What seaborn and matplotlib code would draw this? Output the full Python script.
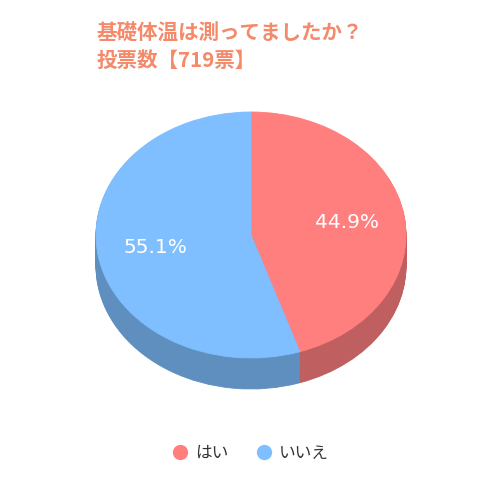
import seaborn as sns
import matplotlib.pyplot as plt
from matplotlib.lines import Line2D
from matplotlib.colors import to_rgb

# data
labels = ["はい", "いいえ"]
shares = [44.9, 55.1]
top_colors = ["#FF7F7F", "#7FBFFF"]
title_lines = ["基礎体温は測ってましたか？", "投票数【719票】"]

sns.set_theme(style="white")
plt.rcParams['font.family'] = ['Noto Sans CJK JP', 'DejaVu Sans']

side_colors = [tuple(c * 0.75 for c in to_rgb(col)) for col in top_colors]

fig = plt.figure(figsize=(5, 5), dpi=100)
ax = fig.add_axes([0, 0, 1, 1])

# fake 3d: stack darker pies downwards, then the top face
depth = 31 / 123
n_layers = 32
for i in range(n_layers, 0, -1):
    off = depth * i / n_layers
    ax.pie(shares, colors=side_colors, startangle=90, counterclock=False,
           center=(0, -off),
           wedgeprops=dict(linewidth=0.6, edgecolor=None))
    for w, c in zip(ax.patches[-2:], side_colors):
        w.set_edgecolor(c)

wedges, texts, autotexts = ax.pie(
    shares, colors=top_colors, startangle=90, counterclock=False,
    autopct='%1.1f%%', pctdistance=0.625,
    textprops=dict(color="white", fontsize=14.5, family="DejaVu Sans"),
    wedgeprops=dict(linewidth=0.6))
for w, c in zip(wedges, top_colors):
    w.set_edgecolor(c)

# ellipse by stretching data units: 1 unit = 155px in x, 123px in y
ax.set_aspect('auto')
ax.set_xlim(-251 / 155, 249 / 155)
ax.set_ylim((235 - 500) / 123, 235 / 123)
ax.axis('off')

fig.text(97 / 500, 1 - 33 / 500, title_lines[0], color="#F48A6A",
         fontsize=14.8, fontweight="bold", va="center", ha="left")
fig.text(97 / 500, 1 - 60 / 500, title_lines[1], color="#F48A6A",
         fontsize=14.8, fontweight="bold", va="center", ha="left")

handles = [Line2D([0], [0], marker='o', linestyle='', markersize=10,
                  markerfacecolor=c, markeredgecolor=c) for c in top_colors]
fig.legend(handles, labels, loc='center', bbox_to_anchor=(0.5, 1 - 453 / 500),
           ncol=2, frameon=False, fontsize=12, handlelength=1.0,
           handletextpad=0.4, columnspacing=1.65, labelcolor="#333333")

fig.savefig("out.png", dpi=100)
